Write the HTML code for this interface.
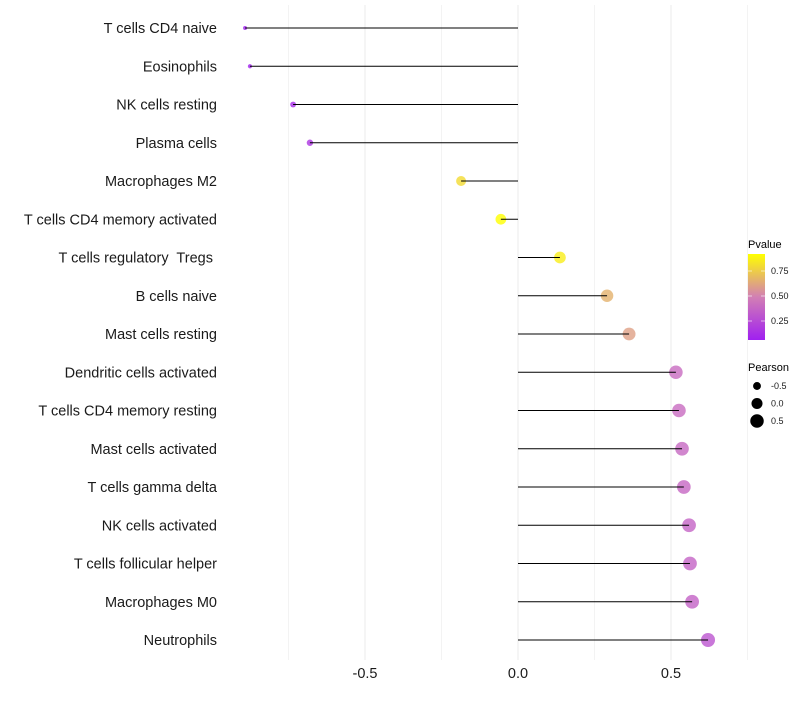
<!DOCTYPE html>
<html><head><meta charset="utf-8"><style>
body{margin:0;background:#fff;}
svg text{font-family:"Liberation Sans",sans-serif;white-space:pre;}
</style></head><body>
<svg id="chart" width="800" height="700" xmlns="http://www.w3.org/2000/svg">
<g id="grid"></g>
<g id="marks"></g>
<g id="ylabels"></g>
<g id="xlabels"></g>
<g id="legend">
<defs><linearGradient id="pg" x1="0" y1="1" x2="0" y2="0">
<stop offset="0" stop-color="#a020f0"/><stop offset="0.5" stop-color="#d27fb4"/><stop offset="1" stop-color="#ffff00"/></linearGradient></defs>
<text x="748" y="248" font-size="11">Pvalue</text>
<rect x="748" y="254" width="17" height="86" fill="url(#pg)"/>
<g id="cbticks"></g>
<text x="748" y="371" font-size="11">Pearson</text>
<g id="sizeleg"></g>
</g>
</svg>
<script>
const categories=["T cells CD4 naive","Eosinophils","NK cells resting","Plasma cells","Macrophages M2","T cells CD4 memory activated","T cells regulatory  Tregs ","B cells naive","Mast cells resting","Dendritic cells activated","T cells CD4 memory resting","Mast cells activated","T cells gamma delta","NK cells activated","T cells follicular helper","Macrophages M0","Neutrophils"];
const pearson=[-0.892,-0.876,-0.735,-0.680,-0.186,-0.056,0.137,0.291,0.363,0.516,0.526,0.536,0.542,0.559,0.562,0.569,0.621];
const pvalue=[0.06,0.07,0.12,0.16,0.80,0.92,0.86,0.66,0.60,0.40,0.40,0.39,0.38,0.37,0.37,0.36,0.30];
const xTicks=[-0.5,0.0,0.5];
const xTickLabels=["-0.5","0.0","0.5"];
const pTicks=[0.25,0.50,0.75];
const sizeLegend=[-0.5,0.0,0.5];
const NS="http://www.w3.org/2000/svg";
const xs=v=>518+v*306;
const ys=i=>28+i*38.25;
const pY=p=>346-p*100;
const rad=v=>Math.sqrt(Math.max(1,30.5+29.8*v));
const pMin=0.06,pMax=0.92;
function lerp(a,b,t){return a.map((x,k)=>Math.round(x+(b[k]-x)*t));}
function col(p){let t=Math.min(1,Math.max(0,(p-pMin)/(pMax-pMin)));const A=[160,32,240],B=[210,127,180],C=[255,255,0];
const c=t<0.5?lerp(A,B,t*2):lerp(B,C,(t-0.5)*2);return `rgb(${c[0]},${c[1]},${c[2]})`;}
function mk(tag,attrs,parent){const e=document.createElementNS(NS,tag);for(const k in attrs)e.setAttribute(k,attrs[k]);parent.appendChild(e);return e;}
const grid=document.getElementById('grid'),marks=document.getElementById('marks'),yl=document.getElementById('ylabels'),xl=document.getElementById('xlabels');
for(let v=-0.75;v<=0.76;v+=0.25){const l=mk('line',{x1:xs(v),x2:xs(v),y1:5,y2:660,stroke:Math.abs((v*4)%2)>0.5?'#f3f3f3':'#ebebeb','stroke-width':1},grid);

}
categories.forEach((c,i)=>{
const y=ys(i),v=pearson[i];
const d=mk('circle',{cx:xs(v),cy:y,r:rad(v),fill:col(pvalue[i]),'fill-opacity':0.8},marks);


const s=mk('line',{x1:xs(0),x2:xs(v),y1:y,y2:y,stroke:'#000','stroke-width':1.1},marks);


const t=mk('text',{x:217,y:y+5,'text-anchor':'end','font-size':14.5,fill:'#1a1a1a','xml:space':'preserve'},yl);t.textContent=c;


});
xTicks.forEach((v,i)=>{const t=mk('text',{x:xs(v),y:678,'text-anchor':'middle','font-size':14.5,fill:'#1a1a1a'},xl);t.textContent=xTickLabels[i];

});
const cb=document.getElementById('cbticks');
pTicks.forEach(p=>{const y=pY(p);
const a=mk('line',{x1:748,x2:752,y1:y,y2:y,stroke:'#fff','stroke-opacity':0.6},cb);
const b=mk('line',{x1:761,x2:765,y1:y,y2:y,stroke:'#fff','stroke-opacity':0.6},cb);
const t=mk('text',{x:771,y:y+3,'font-size':9,fill:'#1a1a1a'},cb);t.textContent=p.toFixed(2);

});
const sl=document.getElementById('sizeleg');
sizeLegend.forEach((v,i)=>{const y=386+i*17.5;
const c=mk('circle',{cx:757,cy:y,r:rad(v),fill:'#000'},sl);
const t=mk('text',{x:771,y:y+3,'font-size':9,fill:'#1a1a1a'},sl);t.textContent=v.toFixed(1);

});
</script>
</body></html>
